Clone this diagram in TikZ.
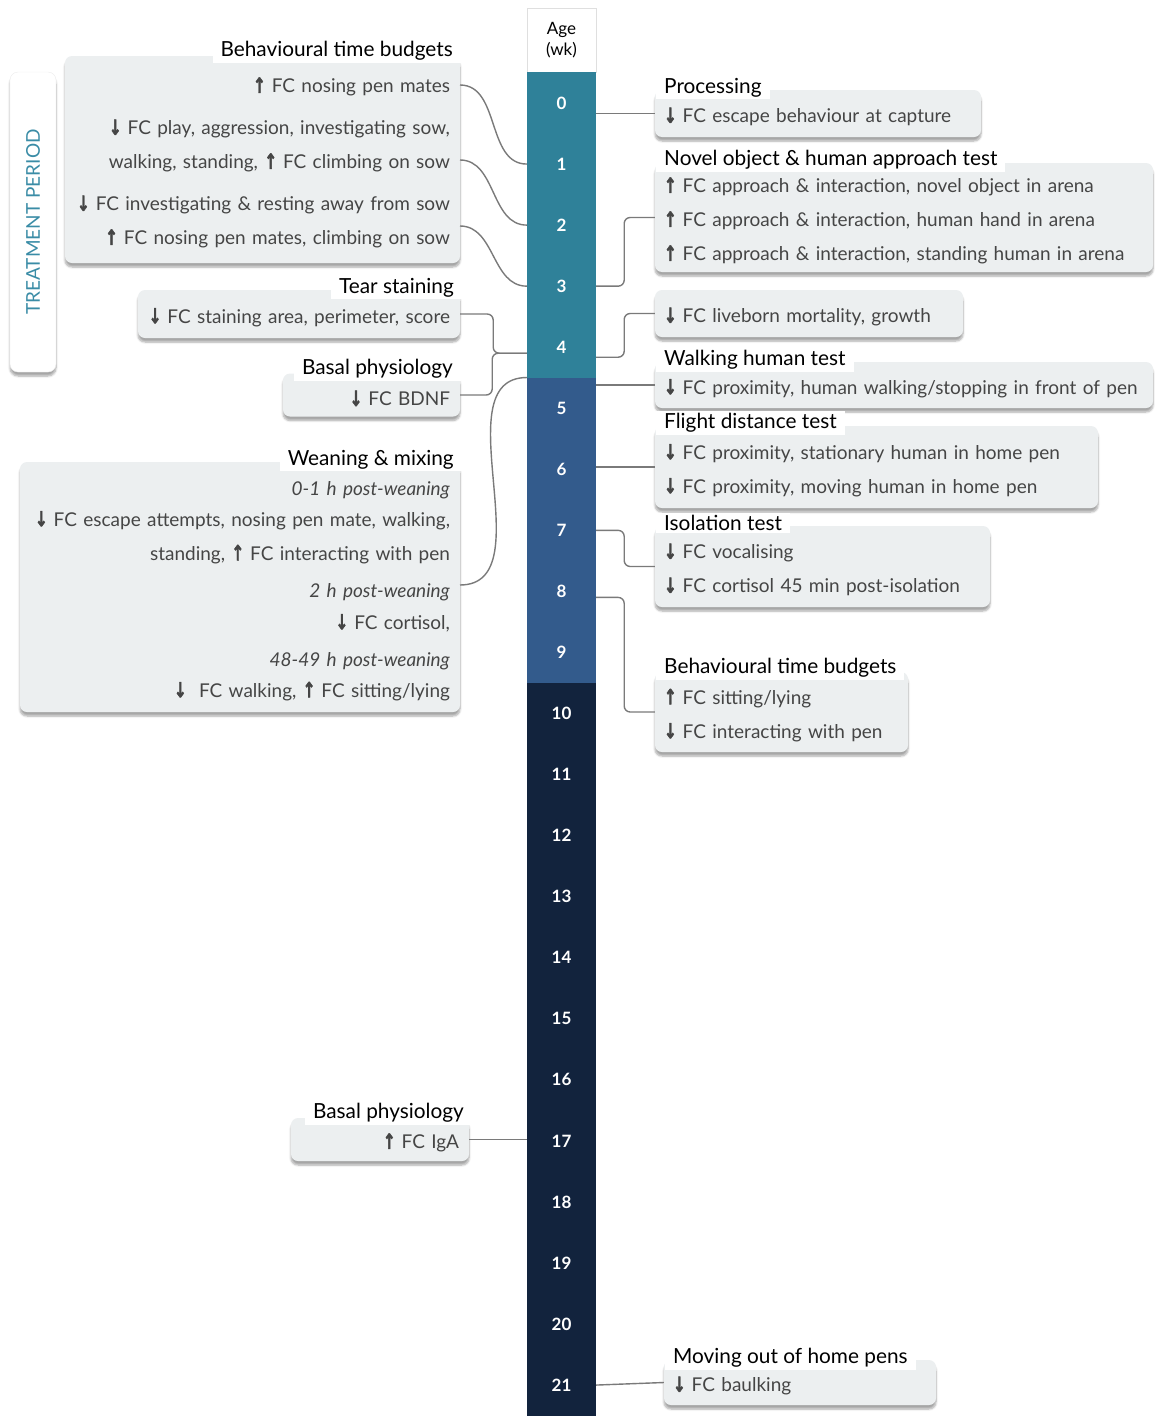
\documentclass[tikz,border=0pt]{standalone}
\usepackage{fontspec}
\setmainfont{Lato}
\newfontfamily\arrowfont{DejaVu Sans}[BoldFeatures={FakeBold=2.5}]
\usepackage{xcolor}
\usepackage{graphicx}
\usepackage{tikz}
\usetikzlibrary{shadows}
\usetikzlibrary{shadows.blur}

\definecolor{wkteal}{HTML}{2F8199}
\definecolor{wkblue}{HTML}{335B8C}
\definecolor{wknavy}{HTML}{12233D}
\definecolor{cardgray}{HTML}{ECEFF0}
\definecolor{itemgray}{HTML}{454545}
\definecolor{linkgray}{HTML}{7A7A7A}
\definecolor{periodteal}{HTML}{3A8CA6}

\newcommand{\upar}{\scalebox{0.8}[1.1]{\arrowfont\bfseries ↑}\hspace{6pt}}
\newcommand{\dnar}{\scalebox{0.8}[1.1]{\arrowfont\bfseries ↓}\hspace{6pt}}

\tikzset{
    week/.style={minimum width=69pt, minimum height=61.05pt, inner sep=0pt,
        text=white, font=\fontsize{17}{20}\selectfont\bfseries},
    card/.style={fill=cardgray, rounded corners=7pt, inner sep=0pt,
        blur shadow={shadow xshift=0pt, shadow yshift=-4pt, shadow blur steps=6, shadow opacity=35},
        text=itemgray, font=\fontsize{19}{34}\selectfont,
        execute at begin node={\rule{0pt}{22pt}}},
    cardtitle/.style={fill=white, inner xsep=8pt, inner ysep=2pt,
        font=\fontsize{20.8}{22}\selectfont},
    link/.style={draw=linkgray, line width=1.4pt},
}

\begin{document}
\begin{tikzpicture}[x=1pt, y=-1pt]
    \useasboundingbox (0,0) rectangle (1154,1416);

    \node[fill=white, draw=gray!25, minimum width=69pt, minimum height=64pt, inner sep=0pt,
        align=center, font=\fontsize{17}{21}\selectfont] (age) at (561.5,40) {Age\\(wk)};
    \foreach \w in {0,...,4}
        \node[week, fill=wkteal] (w\w) at (561.5,{103+61.05*\w}) {\w};
    \foreach \w in {5,...,9}
        \node[week, fill=wkblue] (w\w) at (561.5,{103+61.05*\w}) {\w};
    \foreach \w in {10,...,21}
        \node[week, fill=wknavy] (w\w) at (561.5,{103+61.05*\w}) {\w};

    \node[fill=white, draw=gray!15, rounded corners=8pt, minimum width=46pt, minimum height=300pt,
        blur shadow={shadow xshift=0pt, shadow yshift=-4pt, shadow blur steps=6, shadow opacity=35}]
        (period) at (33,222) {};
    \node[rotate=90, text=periodteal, font=\fontsize{19}{22}\selectfont] (periodtext) at (period) {TREATMENT PERIOD};

    \node[card, minimum width=395pt, minimum height=207pt, text width=375pt, align=right]
        (btbL) at (262.5,159.5) {\upar FC nosing pen mates\\[8pt]
        \dnar FC play, aggression, investigating sow,\\
        walking, standing, \upar FC climbing on sow\\[8pt]
        \dnar FC investigating \& resting away from sow\\
        \upar FC nosing pen mates, climbing on sow};
    \node[cardtitle, anchor=east] (btbLt) at (461,51) {Behavioural time budgets};

    \node[card, minimum width=322pt, minimum height=48pt, text width=302pt, align=right]
        (tear) at (299,314) {\dnar FC staining area, perimeter, score};
    \node[cardtitle, anchor=east] (teart) at (462,288) {Tear staining};

    \node[card, minimum width=177pt, minimum height=43pt, text width=157pt, align=right]
        (bdnf) at (371.5,395) {\dnar FC BDNF};
    \node[cardtitle, anchor=east] (bdnft) at (461,369) {Basal physiology};

    \node[card, minimum width=440pt, minimum height=250pt, text width=420pt, align=right,
        font=\fontsize{19}{31}\selectfont]
        (wean) at (240,587) {\textit{0-1 h post-weaning}\\
        \dnar FC escape attempts, nosing pen mate, walking,\\[3pt]
        standing, \upar FC interacting with pen\hspace*{5pt}\\[6pt]
        \textit{2 h post-weaning}\\[1pt]
        \dnar FC cortisol,\\[6pt]
        \textit{48-49 h post-weaning}\\
        \dnar\ FC walking, \upar FC sitting/lying};
    \node[cardtitle, anchor=east] (weant) at (462,460) {Weaning \& mixing};

    \node[card, minimum width=178pt, minimum height=43pt, text width=158pt, align=right]
        (iga) at (380,1139.5) {\upar FC IgA};
    \node[cardtitle, anchor=east] (igat) at (472,1113) {Basal physiology};

    \node[card, minimum width=326pt, minimum height=47pt, text width=308pt, align=left]
        (proc) at (818,113.5) {\dnar FC escape behaviour at capture};
    \node[cardtitle, anchor=west] (proct) at (656,88) {Processing};

    \node[card, minimum width=498pt, minimum height=109pt, text width=480pt, align=left]
        (novel) at (904,217.5) {\upar FC approach \& interaction, novel object in arena\\
        \upar FC approach \& interaction, human hand in arena\\
        \upar FC approach \& interaction, standing human in arena};
    \node[cardtitle, anchor=west] (novelt) at (656,160) {Novel object \& human approach test};

    \node[card, minimum width=308pt, minimum height=47pt, text width=290pt, align=left]
        (live) at (809,313.5) {\dnar FC liveborn mortality, growth};

    \node[card, minimum width=498pt, minimum height=46pt, text width=480pt, align=left]
        (walk) at (904,385) {\dnar FC proximity, human walking/stopping in front of pen};
    \node[cardtitle, anchor=west] (walkt) at (656,360) {Walking human test};

    \node[card, minimum width=443pt, minimum height=82pt, text width=425pt, align=left]
        (flight) at (876.5,467) {\dnar FC proximity, stationary human in home pen\\
        \dnar FC proximity, moving human in home pen};
    \node[cardtitle, anchor=west] (flightt) at (656,423) {Flight distance test};

    \node[card, minimum width=335pt, minimum height=81pt, text width=317pt, align=left]
        (iso) at (822.5,566.5) {\dnar FC vocalising\\
        \dnar FC cortisol 45 min post-isolation};
    \node[cardtitle, anchor=west] (isot) at (656,523) {Isolation test};

    \node[card, minimum width=253pt, minimum height=80pt, text width=235pt, align=left]
        (btbR) at (781.5,712) {\upar FC sitting/lying\\
        \dnar FC interacting with pen};
    \node[cardtitle, anchor=west] (btbRt) at (656,668) {Behavioural time budgets};

    \node[card, minimum width=272pt, minimum height=45pt, text width=254pt, align=left]
        (move) at (800,1382.5) {\dnar FC baulking};
    \node[cardtitle, anchor=west] (movet) at (665,1358) {Moving out of home pens};

    \coordinate (btbL1) at (460,85);
    \coordinate (btbL2) at (460,160);
    \coordinate (btbL3) at (460,226);
    \coordinate (wean2) at (460,585);

    \draw[link] (btbL1) to[out=0, in=180] (w1.west);
    \draw[link] (btbL2) to[out=0, in=180] (w2.west);
    \draw[link] (btbL3) to[out=0, in=180] (w3.west);
    \draw[link, rounded corners=6pt] (tear.east) -- ++(33,0) |- ([yshift=-6pt]w4.west);
    \draw[link, rounded corners=6pt] (bdnf.east) -- ++(32,0) |- ([yshift=-6pt]w4.west);
    \draw[link] (wean2) to[out=0, in=180] (w5.north west);
    \draw[link] (w17.west |- iga.east) -- (iga.east);

    \draw[link] (w0.east |- proc.west) -- (proc.west);
    \draw[link, rounded corners=6pt] (w3.east) -- ++(28,0) |- (novel.west);
    \draw[link, rounded corners=6pt] ([yshift=-10pt]w4.east) -- ++(28,0) |- (live.west);
    \draw[link] (w5.east |- walk.west) -- (walk.west);
    \draw[link] (w6.east |- flight.west) -- (flight.west);
    \draw[link, rounded corners=6pt] (w7.east) -- ++(28,0) |- (iso.west);
    \draw[link, rounded corners=6pt] ([yshift=-6pt]w8.east) -- ++(28,0) |- (btbR.west);
    \draw[link] (w21.east) -- (move.west);
\end{tikzpicture}
\end{document}
